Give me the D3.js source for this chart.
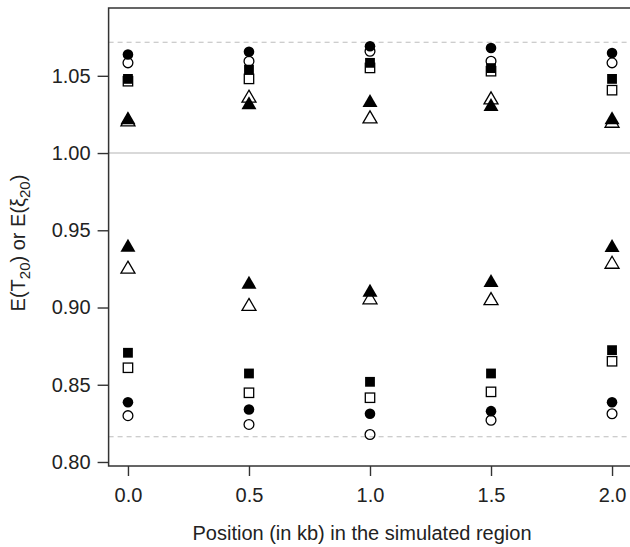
<!DOCTYPE html>
<html>
<head>
<meta charset="utf-8">
<script src="https://cdn.jsdelivr.net/npm/d3@7"></script>
<style>
  html, body { margin: 0; padding: 0; background: #fff; }
  svg { display: block; }
  text { font-family: "Liberation Sans", Arial, Helvetica, sans-serif; fill: #222; }
</style>
</head>
<body>
<svg id="chart" width="630" height="547"></svg>
<script>
// ---- data ----
const positions = [0.0, 0.5, 1.0, 1.5, 2.0];
const xTicks = [0.0, 0.5, 1.0, 1.5, 2.0];
const yTicks = [0.80, 0.85, 0.90, 0.95, 1.00, 1.05];
const refSolid = [1.00];
const refDashed = [1.0717, 0.8163];

const openTriHi      = [1.0215, 1.0368, 1.0234, 1.0357, 1.0206];
const filledTriHi    = [1.0228, 1.0325, 1.0340, 1.0314, 1.0228];
const openSquareHi   = [1.0465, 1.0480, 1.0551, 1.0530, 1.0407];
const filledSquareHi = [1.0480, 1.0540, 1.0584, 1.0550, 1.0480];
const openCircleHi   = [1.0584, 1.0594, 1.0659, 1.0594, 1.0584];
const filledCircleHi = [1.0638, 1.0655, 1.0691, 1.0680, 1.0648];

const openTriLo      = [0.9261, 0.9020, 0.9063, 0.9058, 0.9293];
const filledTriLo    = [0.9403, 0.9164, 0.9112, 0.9175, 0.9401];
const openSquareLo   = [0.8610, 0.8448, 0.8416, 0.8454, 0.8652];
const filledSquareLo = [0.8707, 0.8573, 0.8519, 0.8573, 0.8724];
const openCircleLo   = [0.8300, 0.8243, 0.8178, 0.8270, 0.8312];
const filledCircleLo = [0.8387, 0.8340, 0.8312, 0.8329, 0.8387];

const seriesList = [
  { shape: "triangle", filled: false, values: openTriHi },
  { shape: "triangle", filled: true,  values: filledTriHi },
  { shape: "square",   filled: false, values: openSquareHi },
  { shape: "square",   filled: true,  values: filledSquareHi },
  { shape: "circle",   filled: false, values: openCircleHi },
  { shape: "circle",   filled: true,  values: filledCircleHi },
  { shape: "triangle", filled: false, values: openTriLo },
  { shape: "triangle", filled: true,  values: filledTriLo },
  { shape: "square",   filled: false, values: openSquareLo },
  { shape: "square",   filled: true,  values: filledSquareLo },
  { shape: "circle",   filled: false, values: openCircleLo },
  { shape: "circle",   filled: true,  values: filledCircleLo }
];

(function () {
// ---- layout ----
const svg = d3.select("#chart");
const pLeft = 108.6, pRight = 631.4, pTop = 8, pBottom = 466;
const x = d3.scaleLinear().domain([-0.08, 2.08]).range([pLeft, pRight]);
const y = d3.scaleLinear().domain([0.7974, 1.0939]).range([pBottom, pTop]);
const axisColor = "#333333";
const fontSize = 20;

// reference lines
svg.selectAll("line.solidref").data(refSolid).join("line")
  .attr("class", "solidref")
  .attr("x1", pLeft).attr("x2", pRight)
  .attr("y1", d => y(d)).attr("y2", d => y(d))
  .attr("stroke", "#cccccc").attr("stroke-width", 1.6);

svg.selectAll("line.dashref").data(refDashed).join("line")
  .attr("class", "dashref")
  .attr("x1", pLeft).attr("x2", pRight)
  .attr("y1", d => y(d)).attr("y2", d => y(d))
  .attr("stroke", "#bdbdbd").attr("stroke-width", 1.1)
  .attr("stroke-dasharray", "5,4");

// markers
const g = svg.append("g");
seriesList.forEach(s => {
  const pts = positions.map((p, i) => ({ x: x(p), y: y(s.values[i]) }));
  const fillOpen = s.filled ? "#000" : "none";
  if (s.shape === "circle") {
    g.selectAll(null).data(pts).join("circle")
      .attr("cx", d => d.x).attr("cy", d => d.y)
      .attr("r", s.filled ? 5.3 : 4.9)
      .attr("fill", fillOpen)
      .attr("stroke", s.filled ? "none" : "#000")
      .attr("stroke-width", 1.3);
  } else if (s.shape === "square") {
    const h = s.filled ? 4.9 : 4.7;
    g.selectAll(null).data(pts).join("rect")
      .attr("x", d => d.x - h).attr("y", d => d.y - h)
      .attr("width", 2 * h).attr("height", 2 * h)
      .attr("fill", fillOpen)
      .attr("stroke", s.filled ? "none" : "#000")
      .attr("stroke-width", 1.3);
  } else {
    const hw = s.filled ? 7.5 : 7.0, hh = s.filled ? 6.5 : 6.0;
    g.selectAll(null).data(pts).join("path")
      .attr("d", d => `M${d.x},${d.y - hh}L${d.x + hw},${d.y + hh}L${d.x - hw},${d.y + hh}Z`)
      .attr("fill", fillOpen)
      .attr("stroke", s.filled ? "none" : "#000")
      .attr("stroke-width", 1.3)
      .attr("stroke-linejoin", "miter");
  }
});

// frame
svg.append("rect")
  .attr("x", pLeft).attr("y", pTop)
  .attr("width", pRight - pLeft).attr("height", pBottom - pTop)
  .attr("fill", "none").attr("stroke", axisColor).attr("stroke-width", 1.5);

// x axis
const xAxis = d3.axisBottom(x).tickValues(xTicks).tickFormat(d3.format(".1f"))
  .tickSize(10).tickPadding(12);
const gx = svg.append("g").attr("transform", `translate(0,${pBottom})`).call(xAxis);
gx.select(".domain").remove();
gx.selectAll(".tick line").attr("stroke", axisColor).attr("stroke-width", 1.4);
gx.selectAll(".tick text").attr("font-size", fontSize).attr("fill", "#222")
  .attr("font-family", "'Liberation Sans', Arial, sans-serif");

// y axis
const yAxis = d3.axisLeft(y).tickValues(yTicks).tickFormat(d3.format(".2f"))
  .tickSize(11).tickPadding(7);
const gy = svg.append("g").attr("transform", `translate(${pLeft},0)`).call(yAxis);
gy.select(".domain").remove();
gy.selectAll(".tick line").attr("stroke", axisColor).attr("stroke-width", 1.4);
gy.selectAll(".tick text").attr("font-size", fontSize).attr("fill", "#222")
  .attr("font-family", "'Liberation Sans', Arial, sans-serif");

// x title
svg.append("text")
  .attr("x", (pLeft + pRight) / 2 - 8).attr("y", 540)
  .attr("text-anchor", "middle").attr("font-size", fontSize)
  .text("Position (in kb) in the simulated region");

// y title
const yt = svg.append("text")
  .attr("transform", `translate(25,${(pTop + pBottom) / 2 + 6}) rotate(-90)`)
  .attr("text-anchor", "middle").attr("font-size", fontSize);
yt.append("tspan").text("E(T");
yt.append("tspan").attr("font-size", 15).attr("dy", 5).text("20");
yt.append("tspan").attr("dy", -5).text(") or E(ξ");
yt.append("tspan").attr("font-size", 15).attr("dy", 5).text("20");
yt.append("tspan").attr("dy", -5).text(")");
})();
</script>
</body>
</html>
